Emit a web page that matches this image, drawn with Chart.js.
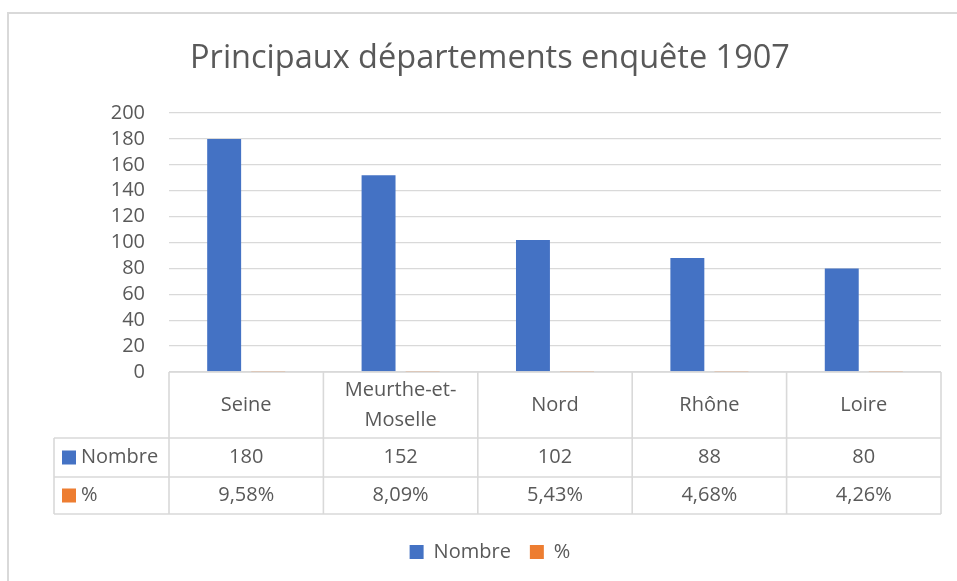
<!DOCTYPE html>
<html lang="fr">
<head>
<meta charset="utf-8">
<title>Principaux départements enquête 1907</title>
<script src="https://cdn.jsdelivr.net/npm/chart.js@4.4.1/dist/chart.umd.min.js"></script>
<style>
  html, body { margin: 0; padding: 0; background: #fff; }
  .wrap { position: relative; width: 957px; height: 581px; overflow: hidden; }
  .frame { position: absolute; left: 7px; top: 12px; width: 1000px; height: 1000px;
           border-left: 2px solid #d9d9d9; border-top: 2px solid #d9d9d9; }
  canvas { position: absolute; left: 0; top: 0; }
</style>
</head>
<body>
<div class="wrap">
  <div class="frame"></div>
  <canvas id="deptChart" width="957" height="581"></canvas>
</div>
<script>
/* data */
const departements = [['Seine'], ['Meurthe-et-', 'Moselle'], ['Nord'], ['Rhône'], ['Loire']];
const nombre = [180, 152, 102, 88, 80];
const pourcent = [9.58, 8.09, 5.43, 4.68, 4.26];
const seriesNames = ['Nombre', '%'];
const yMax = 200, yStep = 20;

const BLUE = '#4472c4', ORANGE = '#ed7d31', TXT = '#595959', LINE = '#d9d9d9';
const FONT = "'Open Sans', sans-serif";

function fmtPct(v) { return v.toFixed(2).replace('.', ',') + '%'; }

/* Excel-like data table drawn under the plot, positioned from the x scale */
const dataTable = {
  id: 'dataTable',
  afterDraw(chart) {
    const ctx = chart.ctx, xs = chart.scales.x, area = chart.chartArea;
    const n = departements.length;
    const catW = xs.getPixelForValue(1) - xs.getPixelForValue(0);
    const left = xs.getPixelForValue(0) - catW / 2;
    const right = left + catW * n;
    const top = area.bottom, r1 = top + 66, r2 = r1 + 39, r3 = r2 + 37;
    const keyLeft = 54;

    ctx.save();
    ctx.strokeStyle = LINE;
    ctx.lineWidth = 1.6;
    ctx.beginPath();
    ctx.moveTo(left, top); ctx.lineTo(right, top);
    [r1, r2, r3].forEach(y => { ctx.moveTo(keyLeft, y); ctx.lineTo(right, y); });
    ctx.moveTo(keyLeft, r1); ctx.lineTo(keyLeft, r3);
    for (let i = 0; i <= n; i++) {
      const x = left + i * catW;
      ctx.moveTo(x, top); ctx.lineTo(x, r3);
    }
    ctx.stroke();

    ctx.fillStyle = TXT;
    ctx.font = '20px ' + FONT;
    ctx.textAlign = 'center';
    ctx.textBaseline = 'middle';
    departements.forEach((lines, i) => {
      const cx = xs.getPixelForValue(i);
      const lh = 30, cy = (top + r1) / 2;
      lines.forEach((t, j) => ctx.fillText(t, cx, cy + (j - (lines.length - 1) / 2) * lh));
      ctx.fillText(String(nombre[i]), cx, (r1 + r2) / 2);
      ctx.fillText(fmtPct(pourcent[i]), cx, (r2 + r3) / 2);
    });

    // series keys in the first column
    ctx.textAlign = 'left';
    [[BLUE, seriesNames[0], (r1 + r2) / 2], [ORANGE, seriesNames[1], (r2 + r3) / 2]].forEach(([c, t, cy]) => {
      ctx.fillStyle = c;
      ctx.fillRect(62, cy - 7, 14, 14);
      ctx.fillStyle = TXT;
      ctx.fillText(t, 81, cy);
    });
    ctx.restore();
  }
};

new Chart(document.getElementById('deptChart'), {
  type: 'bar',
  data: {
    labels: departements,
    datasets: [
      { label: seriesNames[0], data: nombre, backgroundColor: BLUE, borderWidth: 0 },
      // % plotted on the same axis as in Excel: far too small to be seen
      { label: seriesNames[1], data: pourcent.map(v => v / 100), backgroundColor: ORANGE, borderWidth: 0, inflateAmount: 0 }
    ]
  },
  options: {
    responsive: false,
    animation: false,
    events: [],
    devicePixelRatio: 1,
    layout: { padding: { left: 39, right: 16, top: 0, bottom: 9 } },
    datasets: { bar: { categoryPercentage: 0.571, barPercentage: 0.77 } },
    scales: {
      x: {
        grid: { display: false },
        border: { display: false },
        ticks: { display: false },
        afterFit: s => { s.height = 151; }
      },
      y: {
        min: 0, max: yMax,
        ticks: { stepSize: yStep, autoSkip: false, color: TXT, font: { family: FONT, size: 20 }, padding: 24 },
        grid: { color: LINE, lineWidth: 1.3, drawTicks: false },
        border: { display: false },
        afterFit: s => { s.width = 130; }
      }
    },
    plugins: {
      title: {
        display: true,
        text: 'Principaux départements enquête 1907',
        color: TXT,
        font: { family: FONT, size: 32.5, weight: 'normal' },
        padding: { top: 39, bottom: 35 }
      },
      legend: {
        position: 'bottom',
        labels: { color: TXT, font: { family: FONT, size: 20 }, boxWidth: 14, boxHeight: 14, padding: 19 }
      },
      tooltip: { enabled: false }
    }
  },
  plugins: [dataTable]
});
</script>
</body>
</html>
